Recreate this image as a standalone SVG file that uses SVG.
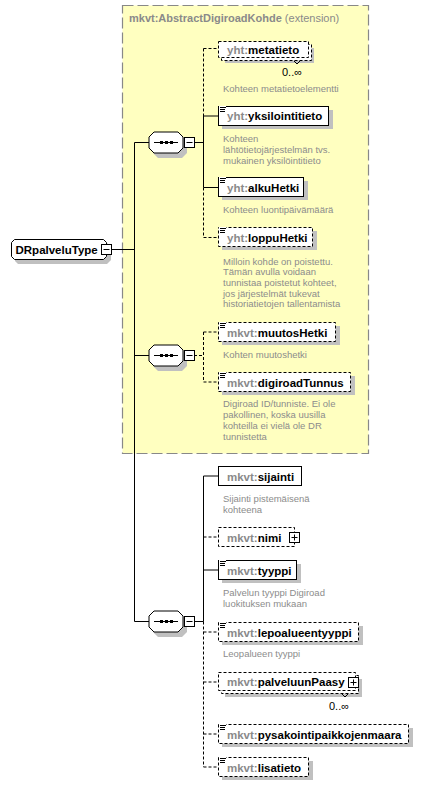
<svg xmlns="http://www.w3.org/2000/svg" width="438" height="787" viewBox="0 0 438 787">
<defs>
<style>
.nm{font-family:"Liberation Sans",Arial,sans-serif;font-size:11.5px;font-weight:bold;fill:#000}
.px{fill:#8a8a8a}
.ds{font-family:"Liberation Sans",Arial,sans-serif;font-size:9.5px;fill:#8c8c8c}
.bx{fill:#fff;stroke:#000;stroke-width:1}
.op{stroke-dasharray:3,2}
.sh{fill:#c0c0c0;stroke:none}
.ln{stroke:#000;stroke-width:1;fill:none}
.ic{stroke:#000;stroke-width:1}
.oc{font-family:"Liberation Sans",Arial,sans-serif;font-size:11px;fill:#000}
</style>
<g id="seqicon">
<polygon class="sh" points="9,4 33,4 38,9 38,21 33,26 9,26 4,21 4,9"/>
<polygon class="bx" points="5,0 29,0 34,5 34,16 29,21 5,21 0,16 0,5"/>
<line class="ln" x1="5" y1="10.5" x2="29" y2="10.5"/>
<rect x="11" y="9" width="3" height="3" fill="#000"/>
<rect x="16" y="9" width="3" height="3" fill="#000"/>
<rect x="21" y="9" width="3" height="3" fill="#000"/>
<rect class="bx" x="35.5" y="5.5" width="10" height="10"/>
<line class="ln" x1="37.5" y1="10.5" x2="43.5" y2="10.5"/>
</g>
<g id="docicon">
<rect x="0" y="0" width="7" height="6" fill="#fff"/>
<line class="ic" x1="1" y1="1.5" x2="7" y2="1.5"/>
<line class="ic" x1="1" y1="3.5" x2="6" y2="3.5"/>
<line class="ic" x1="1" y1="5.5" x2="6" y2="5.5"/>
</g>
</defs>

<g id="extension">
<rect x="122.5" y="5.5" width="246" height="448" fill="#ffffc0" stroke="#888" stroke-width="1.2" stroke-dasharray="11,4"/>
<text x="129" y="22" font-family="Liberation Sans, Arial, sans-serif" font-size="11px" fill="#8a8a8a"><tspan font-weight="bold">mkvt:AbstractDigiroadKohde</tspan> (extension)</text>
</g>

<g id="connectors">
<line class="ln" x1="111" y1="249.5" x2="134.5" y2="249.5"/>
<line class="ln" x1="134.5" y1="142.5" x2="134.5" y2="621.5"/>
<line class="ln" x1="134.5" y1="142.5" x2="149" y2="142.5"/>
<line class="ln" x1="134.5" y1="355.5" x2="149" y2="355.5"/>
<line class="ln" x1="134.5" y1="621.5" x2="149" y2="621.5"/>
<line class="ln" x1="194" y1="142.5" x2="203.5" y2="142.5"/>
<line class="ln op" x1="203.5" y1="48.5" x2="203.5" y2="116"/>
<line class="ln" x1="203.5" y1="116" x2="203.5" y2="187.5"/>
<line class="ln op" x1="203.5" y1="187.5" x2="203.5" y2="237.5"/>
<line class="ln op" x1="203.5" y1="48.5" x2="218" y2="48.5"/>
<line class="ln" x1="203.5" y1="116" x2="218" y2="116"/>
<line class="ln" x1="203.5" y1="187.5" x2="218" y2="187.5"/>
<line class="ln op" x1="203.5" y1="237.5" x2="218" y2="237.5"/>
<line class="ln op" x1="194" y1="355.5" x2="203.5" y2="355.5"/>
<line class="ln op" x1="203.5" y1="332" x2="203.5" y2="382"/>
<line class="ln op" x1="203.5" y1="332" x2="218" y2="332"/>
<line class="ln op" x1="203.5" y1="382" x2="218" y2="382"/>
<line class="ln" x1="194" y1="621.5" x2="203.5" y2="621.5"/>
<line class="ln" x1="203.5" y1="476" x2="203.5" y2="621.5"/>
<line class="ln op" x1="203.5" y1="621.5" x2="203.5" y2="767"/>
<line class="ln" x1="203.5" y1="476" x2="218" y2="476"/>
<line class="ln op" x1="203.5" y1="537" x2="218" y2="537"/>
<line class="ln" x1="203.5" y1="570" x2="218" y2="570"/>
<line class="ln op" x1="203.5" y1="632" x2="218" y2="632"/>
<line class="ln op" x1="203.5" y1="682" x2="218" y2="682"/>
<line class="ln op" x1="203.5" y1="734" x2="218" y2="734"/>
<line class="ln op" x1="203.5" y1="767" x2="218" y2="767"/>
</g>

<g id="DRpalveluType">
<polygon class="sh" points="18,243 107,243 111,247 111,260 107,264 18,264 15,261 15,246"/>
<polygon class="bx" points="14.5,239.5 103.5,239.5 106.5,242.5 106.5,256.5 103.5,259.5 14.5,259.5 11.5,256.5 11.5,242.5"/>
<text class="nm" x="15.5" y="253.5">DRpalveluType</text>
<rect class="bx" x="101.5" y="244.5" width="10" height="10"/>
<line class="ln" x1="103.5" y1="249.5" x2="109.5" y2="249.5"/>
</g>

<g id="sequence1"><use href="#seqicon" x="149" y="132"/></g>
<g id="sequence2"><use href="#seqicon" x="149" y="345"/></g>
<g id="sequence3"><use href="#seqicon" x="149" y="611"/></g>

<g id="metatieto">
<rect class="sh" x="225" y="48" width="89" height="15"/>
<rect class="bx op" x="221.5" y="44.5" width="90" height="16"/>
<rect class="bx op" x="218.5" y="41.5" width="90" height="16"/>
<text class="nm" x="227" y="53.5"><tspan class="px">yht:</tspan>metatieto</text>
<path class="ln" d="M294,61 L297,64 L300,61"/>
<text class="oc" x="282" y="76">0..∞</text>
<text class="ds" x="223" y="92">Kohteen metatietoelementti</text>
</g>

<g id="yksilointitieto">
<rect class="sh" x="222" y="110" width="111" height="19"/>
<rect class="bx" x="218.5" y="106.5" width="110" height="19"/>
<use href="#docicon" x="219" y="106"/>
<text class="nm" x="227" y="120"><tspan class="px">yht:</tspan>yksilointitieto</text>
<text class="ds" x="223" y="141.5">Kohteen</text>
<text class="ds" x="223" y="152.5">lähtötietojärjestelmän  tvs.</text>
<text class="ds" x="223" y="163.5">mukainen yksilöintitieto</text>
</g>

<g id="alkuHetki">
<rect class="sh" x="222" y="181" width="86" height="19"/>
<rect class="bx" x="218.5" y="177.5" width="85" height="19"/>
<use href="#docicon" x="219" y="177"/>
<text class="nm" x="227" y="191.5"><tspan class="px">yht:</tspan>alkuHetki</text>
<text class="ds" x="223" y="212.5">Kohteen luontipäivämäärä</text>
</g>

<g id="loppuHetki">
<rect class="sh" x="222" y="231" width="95" height="19"/>
<rect class="bx op" x="218.5" y="227.5" width="94" height="19"/>
<use href="#docicon" x="219" y="227"/>
<text class="nm" x="227" y="241.5"><tspan class="px">yht:</tspan>loppuHetki</text>
<text class="ds" x="223" y="264.5">Milloin kohde on poistettu.</text>
<text class="ds" x="223" y="275.2">Tämän avulla voidaan</text>
<text class="ds" x="223" y="285.9">tunnistaa poistetut kohteet,</text>
<text class="ds" x="223" y="296.6">jos järjestelmät tukevat</text>
<text class="ds" x="223" y="307.3">historiatietojen tallentamista</text>
</g>

<g id="muutosHetki">
<rect class="sh" x="222" y="326" width="118" height="19"/>
<rect class="bx op" x="218.5" y="322.5" width="117" height="19"/>
<use href="#docicon" x="219" y="322"/>
<text class="nm" x="227" y="336.5"><tspan class="px">mkvt:</tspan>muutosHetki</text>
<text class="ds" x="223" y="357.5">Kohten muutoshetki</text>
</g>

<g id="digiroadTunnus">
<rect class="sh" x="222" y="376" width="133" height="19"/>
<rect class="bx op" x="218.5" y="372.5" width="132" height="19"/>
<use href="#docicon" x="219" y="372"/>
<text class="nm" x="227" y="386.5"><tspan class="px">mkvt:</tspan>digiroadTunnus</text>
<text class="ds" x="223" y="406.5">Digiroad ID/tunniste. Ei ole</text>
<text class="ds" x="223" y="417.5">pakollinen, koska uusilla</text>
<text class="ds" x="223" y="428.5">kohteilla ei vielä ole DR</text>
<text class="ds" x="223" y="439.5">tunnistetta</text>
</g>

<g id="sijainti">
<rect class="bx" x="218.5" y="466.5" width="83" height="19"/>
<text class="nm" x="227" y="480.5"><tspan class="px">mkvt:</tspan>sijainti</text>
<text class="ds" x="223" y="502">Sijainti pistemäisenä</text>
<text class="ds" x="223" y="513">kohteena</text>
</g>

<g id="nimi">
<rect class="bx op" x="218.5" y="527.5" width="76" height="19"/>
<text class="nm" x="227" y="541.5"><tspan class="px">mkvt:</tspan>nimi</text>
<rect class="bx" x="289.5" y="532.5" width="10" height="10"/>
<path class="ln" d="M291.5,537.5 H297.5 M294.5,534.5 V540.5"/>
</g>

<g id="tyyppi">
<rect class="sh" x="222" y="564" width="79" height="19"/>
<rect class="bx" x="218.5" y="560.5" width="78" height="19"/>
<use href="#docicon" x="219" y="560"/>
<text class="nm" x="227" y="574.5"><tspan class="px">mkvt:</tspan>tyyppi</text>
<text class="ds" x="223" y="596">Palvelun tyyppi Digiroad</text>
<text class="ds" x="223" y="607">luokituksen mukaan</text>
</g>

<g id="lepoalueentyyppi">
<rect class="sh" x="222" y="626" width="141" height="19"/>
<rect class="bx op" x="218.5" y="622.5" width="140" height="19"/>
<use href="#docicon" x="219" y="622"/>
<text class="nm" x="227" y="636.5"><tspan class="px">mkvt:</tspan>lepoalueentyyppi</text>
<text class="ds" x="223" y="657">Leopalueen tyyppi</text>
</g>

<g id="palveluunPaasy">
<rect class="sh" x="225" y="679" width="137" height="18"/>
<rect class="bx op" x="221.5" y="675.5" width="137" height="18"/>
<rect class="bx op" x="218.5" y="672.5" width="137" height="18"/>
<text class="nm" x="227" y="686"><tspan class="px">mkvt:</tspan>palveluunPaasy</text>
<rect class="bx" x="348.5" y="677.5" width="10" height="10"/>
<path class="ln" d="M350.5,682.5 H356.5 M353.5,679.5 V685.5"/>
<path class="ln" d="M342,694 L345,697 L348,694"/>
<text class="oc" x="329" y="710">0..∞</text>
</g>

<g id="pysakointipaikkojenmaara">
<rect class="sh" x="222" y="728" width="191" height="19"/>
<rect class="bx op" x="218.5" y="724.5" width="190" height="19"/>
<use href="#docicon" x="219" y="724"/>
<text class="nm" x="227" y="738.5"><tspan class="px">mkvt:</tspan>pysakointipaikkojenmaara</text>
</g>

<g id="lisatieto">
<rect class="sh" x="222" y="761" width="91" height="19"/>
<rect class="bx op" x="218.5" y="757.5" width="90" height="19"/>
<use href="#docicon" x="219" y="757"/>
<text class="nm" x="227" y="771.5"><tspan class="px">mkvt:</tspan>lisatieto</text>
</g>
</svg>
